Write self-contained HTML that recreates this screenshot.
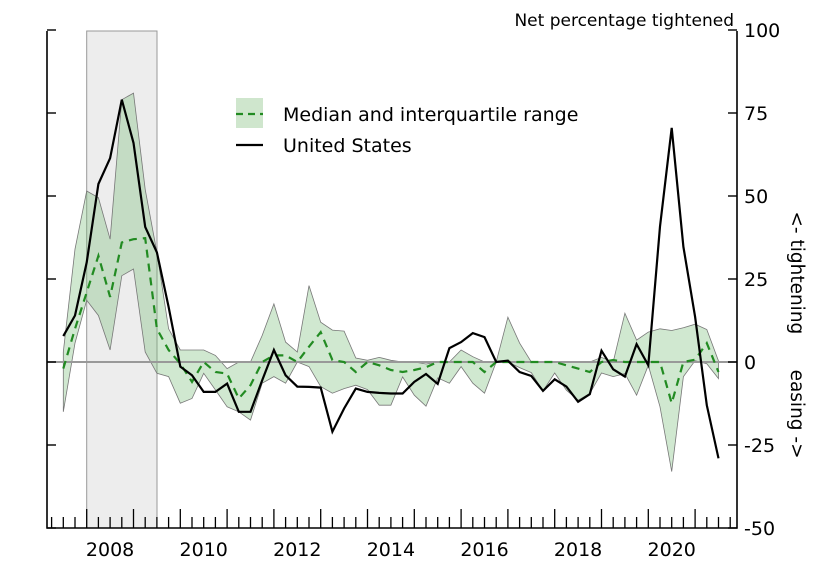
<!DOCTYPE html>
<html><head><meta charset="utf-8"><style>
body{margin:0;background:#fff}
svg{display:block;font-family:"DejaVu Sans","Liberation Sans",sans-serif}
</style></head><body>
<svg id="c" width="818" height="569" viewBox="0 0 818 569">
<rect x="86.7" y="31" width="70.3" height="497" fill="#ededed" stroke="#999" stroke-width="1"/>
<g id="plot"></g>
<g id="axes"></g>
<text x="734" y="26" font-size="17" text-anchor="end">Net percentage tightened</text>
<text transform="translate(791,335) rotate(90)" font-size="18.5" text-anchor="middle" xml:space="preserve">&lt;- tightening      easing -&gt;</text>
<g>
<rect x="236" y="98" width="27" height="30" fill="#cfe6cd"/>
<line x1="236" y1="114" x2="263" y2="114" stroke="#228b22" stroke-width="2.2" stroke-dasharray="7,5"/>
<text x="283" y="121" font-size="19">Median and interquartile range</text>
<line x1="236" y1="145" x2="263" y2="145" stroke="#000" stroke-width="2.2"/>
<text x="283" y="152" font-size="19">United States</text>
</g>
</svg>
<script>
const startYear = 2007.5;
const usValues = [7.8,14,30,53.6,61.4,79,66,40.7,33,16.6,-1.4,-4,-9,-9,-6.5,-15,-15,-5.5,3.6,-4,-7.4,-7.5,-7.7,-21,-14,-8,-9,-9.3,-9.5,-9.5,-6,-3.6,-6.6,4.2,6,8.7,7.5,0,0.4,-3,-4.2,-8.7,-5.2,-7.4,-12,-9.7,3.4,-2.2,-4.4,5.4,-1,40.8,70.5,34.7,13.6,-13,-29];
const medianValues = [-2,10,21,32,19.6,36,37,37.3,10,3.6,-0.5,-6,0,-3,-3.5,-11,-7,0,2,2,0,4.6,9,0.6,0,-3,0,-1,-2.4,-3,-2.4,-1.6,0,0,0,0,-3,0,0,0,0,0,0,-1,-2,-3,0,0.6,0,0,0,0,-12.4,0,0.7,5.7,-3];
const upperValues = [3,34,51.5,49.5,37,79,81,52,33,10,3.6,3.6,3.6,2,-2,0,0,8,17.5,6,3,23,12,9.6,9.3,1.2,0.5,1.4,0.5,0,0,-0.6,0,0,3.6,1.6,0,0,13.5,5.7,0,0,0,0,0,0,1.4,0,14.7,6.6,9,10,9.5,10.3,11.4,9.8,0.3];
const lowerValues = [-15,5.7,18.6,14,3.6,26,28,3,-3.4,-4.4,-12.4,-11,-3.4,-8.4,-13.5,-15,-17.5,-6.4,-4.4,-6.4,0,-1.4,-7.4,-9.4,-8,-7,-8.3,-13,-13,-4.5,-10,-13.3,-4.8,-6.4,-1.4,-6.4,-9.4,0,0,-1.7,-3.2,-8.7,-3.3,-8.5,-11.5,-9.5,-3.3,-4.4,-3.5,-10,-1,-13.5,-33,-4.4,0.4,-0.5,-5];
const yTicks = [100,75,50,25,0,-25,-50];
const yearLabels = [2008,2010,2012,2014,2016,2018,2020];

const NS="http://www.w3.org/2000/svg";
function X(t){return 86.7+(t-2008)*46.8;}
function Y(v){return 362-v*3.32;}
function tOf(i){return startYear+i*0.25;}
function mk(tag,attrs,parent){const e=document.createElementNS(NS,tag);for(const k in attrs)e.setAttribute(k,attrs[k]);parent.appendChild(e);return e;}
const plot=document.getElementById('plot'), axes=document.getElementById('axes');

let d='';
upperValues.forEach((v,i)=>{d+=(i?'L':'M')+X(tOf(i)).toFixed(1)+','+Y(v).toFixed(1);});
for(let i=lowerValues.length-1;i>=0;i--)d+='L'+X(tOf(i)).toFixed(1)+','+Y(lowerValues[i]).toFixed(1);
d+='Z';
const band=mk('path',{d:d,fill:'rgba(120,190,120,0.35)',stroke:'#777','stroke-width':0.8},plot);



const zl=mk('line',{x1:47,x2:737,y1:Y(0),y2:Y(0),stroke:'#999','stroke-width':2},plot);



function pts(arr){return arr.map((v,i)=>X(tOf(i)).toFixed(1)+','+Y(v).toFixed(1)).join(' ');}
const med=mk('polyline',{points:pts(medianValues),fill:'none',stroke:'#228b22','stroke-width':2.2,'stroke-dasharray':'8,6'},plot);


const us=mk('polyline',{points:pts(usValues),fill:'none',stroke:'#000','stroke-width':2.2,'stroke-linejoin':'miter'},plot);



const ax=mk('path',{d:'M47,31V528H737V31',fill:'none',stroke:'#000','stroke-width':1.6},axes);


yTicks.forEach(v=>{
  const y=Y(v);
  const t1=mk('line',{x1:47,x2:56,y1:y,y2:y,stroke:'#000','stroke-width':1.4},axes);
  
  
  const t2=mk('line',{x1:728,x2:737,y1:y,y2:y,stroke:'#000','stroke-width':1.4},axes);
  
  
  const tx=mk('text',{x:744,y:y+7,'font-size':19},axes);
  tx.textContent=String(v);
  
  
});
for(let q=0;;q++){
  const t=2007+q*0.25; const x=X(t);
  if(x<48)continue; if(x>736)break;
  const major=(q%4===0);
  const tk=mk('line',{x1:x,x2:x,y1:528,y2:major?509:517,stroke:'#000','stroke-width':1.3},axes);
  
  
}
yearLabels.forEach(yr=>{
  const tx=mk('text',{x:X(yr+0.5),y:556,'font-size':19,'text-anchor':'middle'},axes);
  tx.textContent=String(yr);
  
  
});
</script>
</body></html>
